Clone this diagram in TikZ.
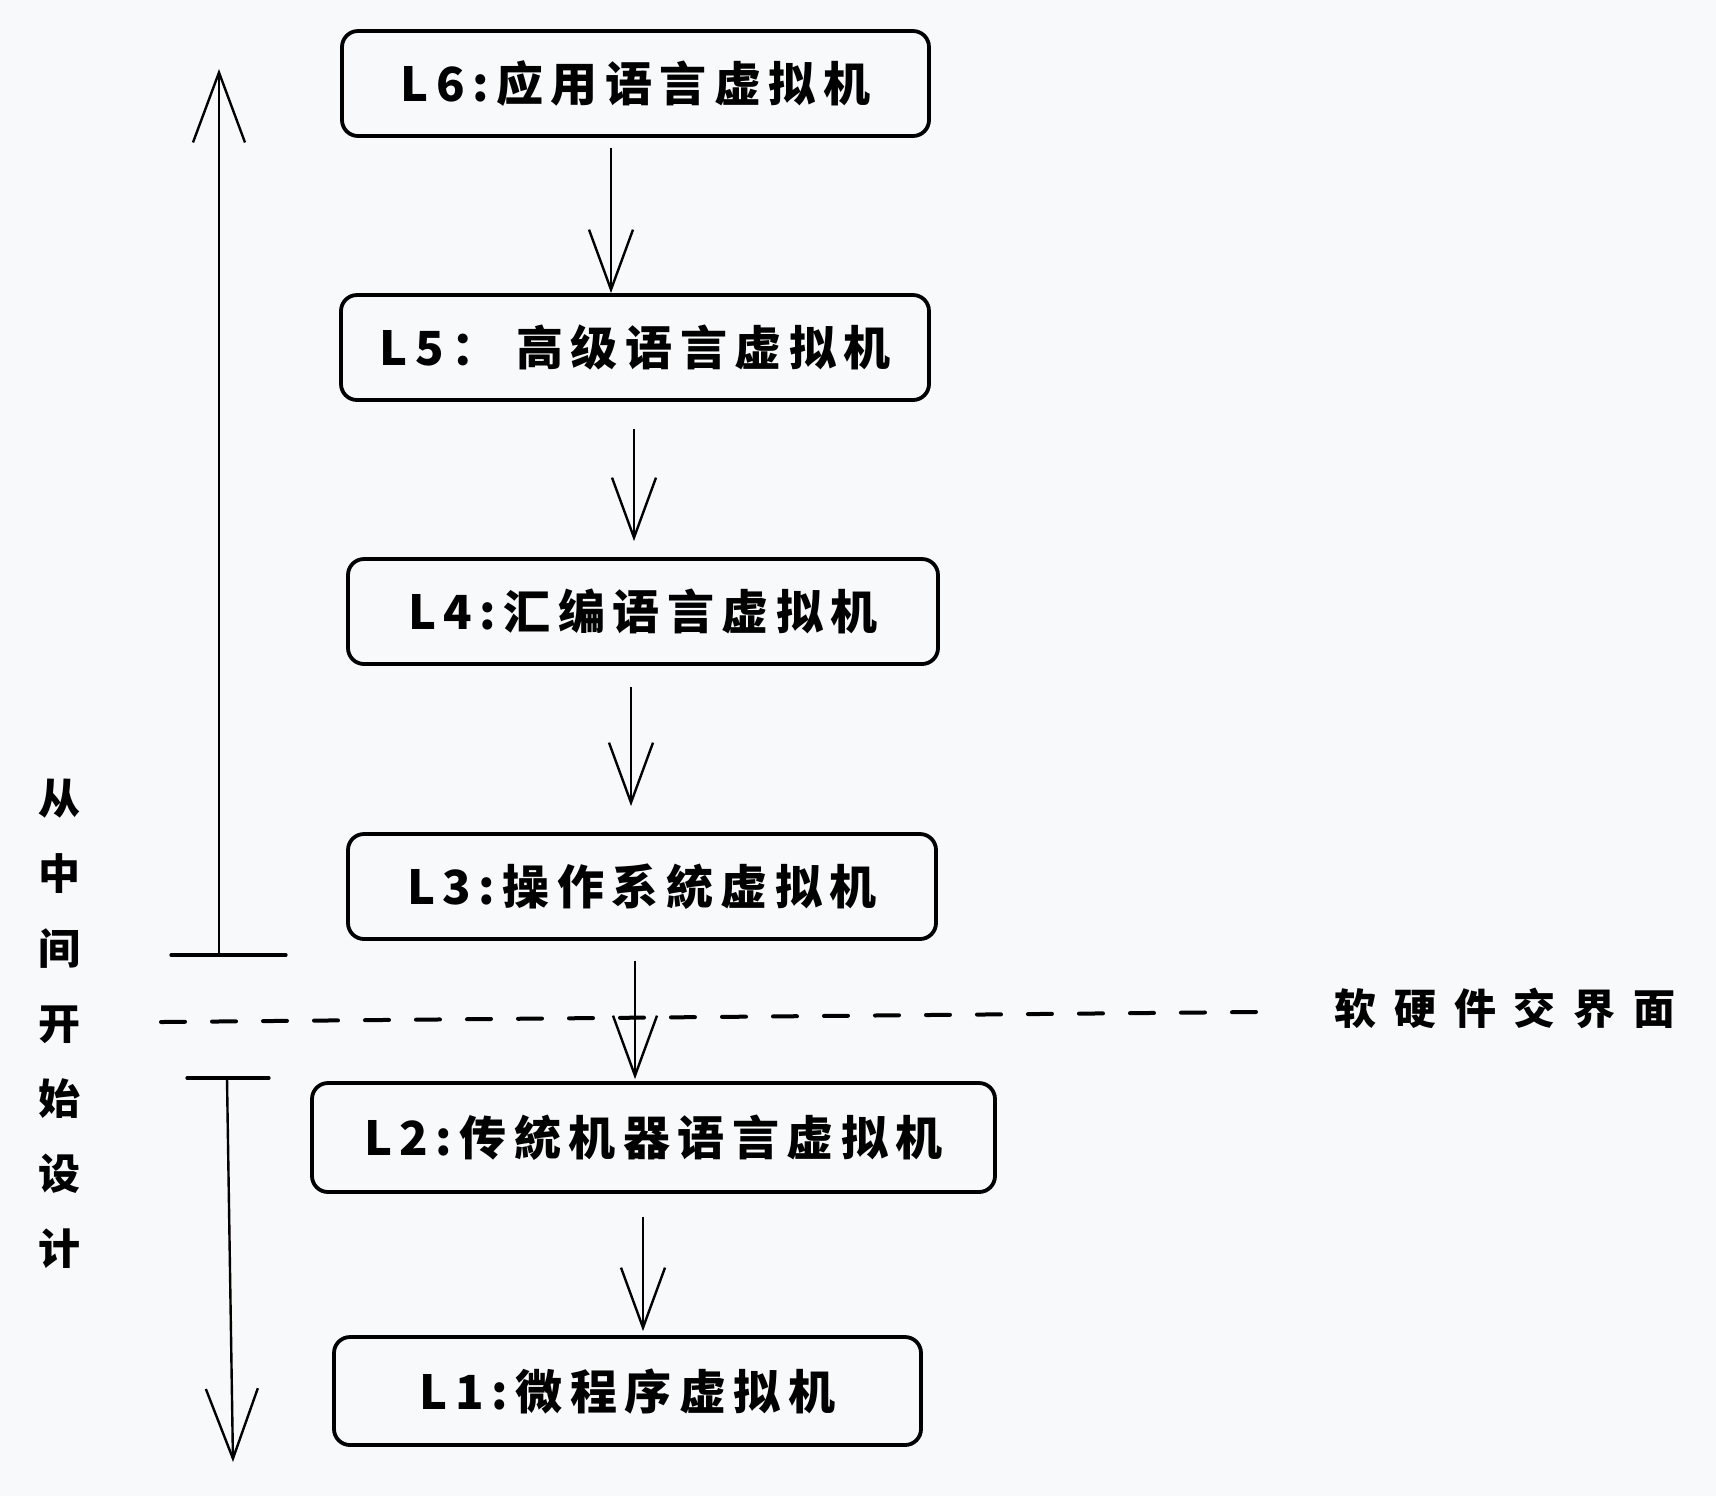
\documentclass[tikz,border=0pt]{standalone}
\usepackage{fontspec}
\newfontfamily\cjk{Noto Sans CJK SC}
\newfontfamily\cjkbox[LetterSpace=16]{Noto Sans CJK SC}
\newfontfamily\cjkwide[LetterSpace=42]{Noto Sans CJK SC}
\usetikzlibrary{arrows.meta}
\definecolor{bgc}{HTML}{F8F9FA}
\begin{document}
\begin{tikzpicture}[x=0.5pt,y=-0.5pt,
  box/.style={draw, line width=1.9pt, rounded corners=8pt, inner sep=0pt,
    minimum width=293.5pt, minimum height=52.5pt,
    font=\cjkbox\bfseries\fontsize{23.5}{26}\selectfont},
  arr/.style={line width=1.2pt, -{Straight Barb[length=30pt,width=22pt,line width=1.2pt]}},
  bigarr/.style={line width=1.2pt, -{Straight Barb[length=35pt,width=26pt,line width=1.2pt]}},
  bar/.style={line width=1.6pt, line cap=round},
  sep/.style={line width=2pt, line cap=round, dash pattern=on 12pt off 13.5pt},
  lbl/.style={font=\cjk\bfseries\fontsize{21}{37.5}\selectfont, align=center, inner sep=0pt}]
\fill[bgc] (0,0) rectangle (1716,1496);
\useasboundingbox (0,0) rectangle (1716,1496);

% boxes
\node[box] (L6) at (635.5,83.5) {L6:应用语言虚拟机};
\node[box, minimum width=294pt] (L5) at (635,347.5) {L5： 高级语言虚拟机};
\node[box, minimum width=295pt] (L4) at (643,611.5) {L4:汇编语言虚拟机};
\node[box, minimum width=294pt] (L3) at (642,886.5) {L3:操作系統虚拟机};
\node[box, minimum width=341.5pt, minimum height=54.5pt] (L2) at (653.5,1137.5) {L2:传統机器语言虚拟机};
\node[box, minimum height=54pt] (L1) at (627.5,1391) {L1:微程序虚拟机};

% arrows between boxes
\draw[arr] ([xshift=-12.25pt,yshift=-5pt]L6.south) -- ([xshift=-12pt]L5.north);
\draw[arr] ([xshift=-0.5pt,yshift=-13.5pt]L5.south) -- ([xshift=-4.5pt,yshift=8pt]L4.north);
\draw[arr] ([xshift=-6pt,yshift=-10.5pt]L4.south) -- ([xshift=-5.5pt,yshift=13pt]L3.north);
\draw[arr] ([xshift=-3.5pt,yshift=-10pt]L3.south) -- ([xshift=-9.25pt,yshift=1pt]L2.north);
\draw[arr] ([xshift=-5.25pt,yshift=-11.5pt]L2.south) -- ([xshift=7.75pt,yshift=2pt]L1.north);

% left indicator arrows
\coordinate (upbarL) at (171,955);
\coordinate (upbarR) at (286,955);
\coordinate (upfoot) at (219,955);
\coordinate (uptip) at (219,69);
\draw[bar] (upbarL) -- (upbarR);
\draw[bigarr] (upfoot) -- (uptip);

\coordinate (dnbarL) at (187,1078);
\coordinate (dnbarR) at (269,1078);
\coordinate (dnfoot) at (227,1078);
\coordinate (dntip) at (233,1462);
\draw[bar] (dnbarL) -- (dnbarR);
\draw[bigarr] (dnfoot) -- (dntip);

% hardware/software interface
\coordinate (sepL) at (161,1022);
\coordinate (sepR) at (1256,1012);
\draw[sep] (sepL) -- (sepR);
\node[font=\cjkwide\bfseries\fontsize{21}{24}\selectfont, inner sep=0pt] (iface) at (1505,1008) {软硬件交界面};

% vertical label
\node[lbl] (design) at (60,1024) {从\\中\\间\\开\\始\\设\\计};
\end{tikzpicture}
\end{document}
